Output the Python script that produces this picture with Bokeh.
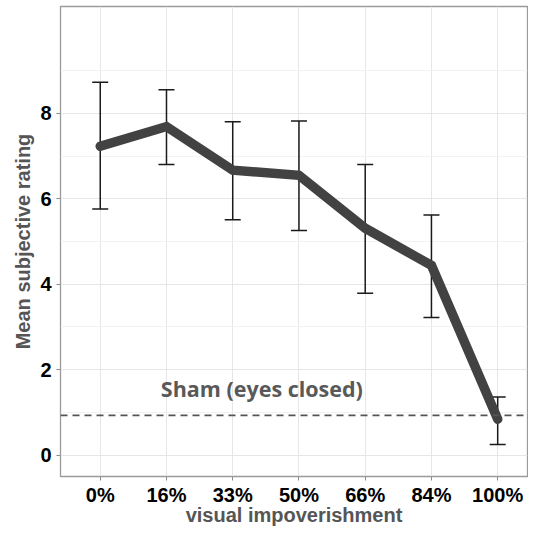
from bokeh.plotting import figure
from bokeh.models import ColumnDataSource, FixedTicker, Span, Whisker, Label, TeeHead
from bokeh.embed import file_html
from bokeh.resources import INLINE

# ---- data ----
categories = ["0%", "16%", "33%", "50%", "66%", "84%", "100%"]
mean_rating = [7.23, 7.69, 6.67, 6.55, 5.31, 4.44, 0.84]
upper_err = [8.73, 8.55, 7.80, 7.82, 6.80, 5.62, 1.36]
lower_err = [5.76, 6.80, 5.51, 5.26, 3.79, 3.22, 0.25]
sham_level = 0.93
sham_label = "Sham (eyes closed)"
y_ticks = [0, 2, 4, 6, 8]
y_minor = [1, 3, 5, 7, 9]

xpos = list(range(len(categories)))
src = ColumnDataSource(dict(x=xpos, mean=mean_rating, upper=upper_err, lower=lower_err))

p = figure(width=528, height=528, output_backend="svg", toolbar_location=None,
           x_range=(-0.6, 6.45), y_range=(-0.5, 10.5),
           min_border_left=60, min_border_right=1, min_border_top=6, min_border_bottom=40)

p.background_fill_color = "white"
p.border_fill_color = "white"
p.outline_line_color = "#9a9a9a"
p.outline_line_width = 1.3

# grids
p.xgrid.ticker = FixedTicker(ticks=xpos)
p.xgrid.grid_line_color = "#e6e6e6"
p.ygrid.ticker = FixedTicker(ticks=y_ticks, minor_ticks=y_minor)
p.ygrid.grid_line_color = "#e6e6e6"
p.ygrid.minor_grid_line_color = "#f3f3f3"

# axes
p.xaxis.ticker = FixedTicker(ticks=xpos)
p.xaxis.major_label_overrides = {i: c for i, c in enumerate(categories)}
p.yaxis.ticker = FixedTicker(ticks=y_ticks, minor_ticks=y_minor)
for ax in (p.xaxis, p.yaxis):
    ax.axis_line_color = None
    ax.major_tick_line_color = "#8a8a8a"
    ax.major_tick_in = 0
    ax.major_tick_out = 4
    ax.minor_tick_line_color = None
    ax.major_label_text_font = "Liberation Sans"
    ax.major_label_text_font_style = "bold"
    ax.major_label_text_font_size = "20px"
    ax.major_label_text_color = "black"
    ax.axis_label_text_font = "Liberation Sans"
    ax.axis_label_text_font_style = "bold"
    ax.axis_label_text_font_size = "20px"
    ax.axis_label_text_color = "#555555"
p.xaxis.axis_label = "visual impoverishment"
p.yaxis.axis_label = "Mean subjective rating"
p.xaxis.major_label_standoff = 3
p.xaxis.axis_label_standoff = -5
p.yaxis.major_label_standoff = 5
p.yaxis.axis_label_standoff = 3

# sham reference line
p.add_layout(Span(location=sham_level, dimension="width", line_color="#555555",
                  line_width=1.6, line_dash="7 5"))
p.add_layout(Label(x=2.44, y=1.55, text=sham_label, text_align="center",
                   text_baseline="middle", text_font="Open Sans",
                   text_font_style="bold", text_font_size="21.5px",
                   text_color="#595959"))

# mean line
p.line("x", "mean", source=src, line_width=9.5, line_color="#424242",
       line_cap="round", line_join="miter")

# error bars
w = Whisker(base="x", upper="upper", lower="lower", source=src,
            line_color="#1a1a1a", line_width=1.5)
w.upper_head = TeeHead(size=16, line_color="#1a1a1a", line_width=1.5)
w.lower_head = TeeHead(size=16, line_color="#1a1a1a", line_width=1.5)
p.add_layout(w)

open("out.html", "w").write(file_html(p, INLINE))
